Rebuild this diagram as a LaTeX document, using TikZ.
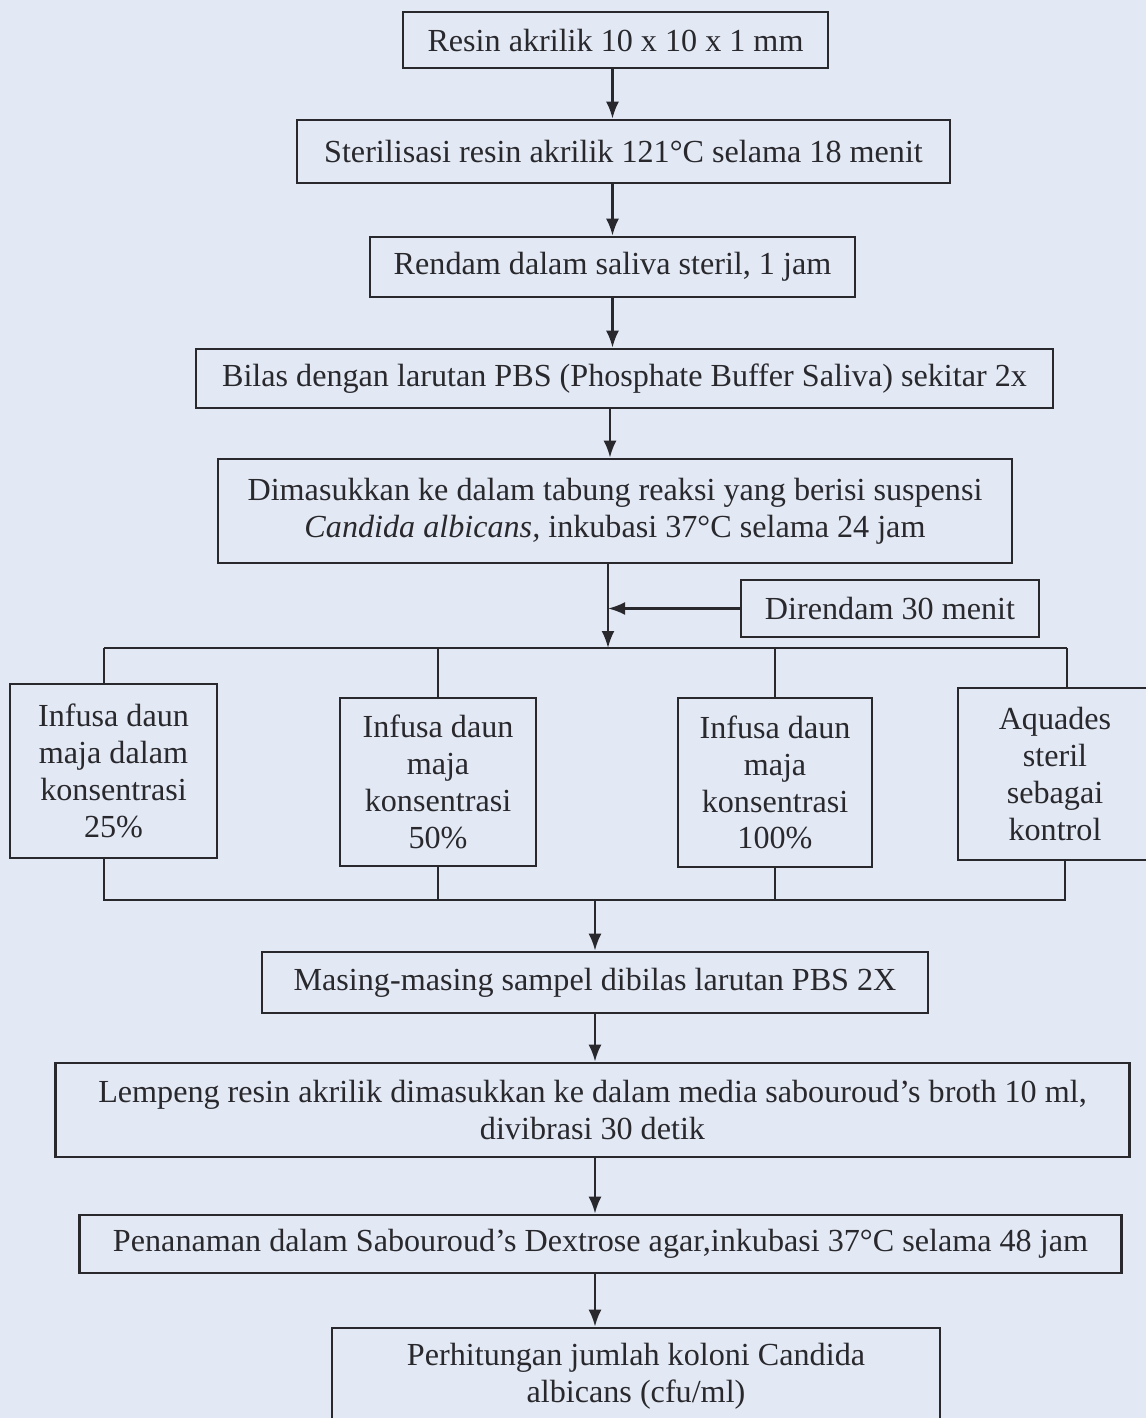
\documentclass[tikz,border=0pt]{standalone}
\usepackage{fontspec}
\setmainfont{Liberation Serif}
\usetikzlibrary{arrows.meta,positioning,calc}
\definecolor{kertas}{RGB}{227,233,244}
\definecolor{tinta}{RGB}{40,40,45}

\begin{document}
\begin{tikzpicture}[x=0.02cm,y=-0.02cm,
    kotak/.style={draw=tinta,line width=1.6pt,align=center,inner sep=0pt,text=tinta,
        font=\fontsize{18.3}{21}\selectfont},
    garis/.style={draw=tinta,line width=1.3pt},
    panah/.style={garis,-{Latex[length=3.4mm,width=2.6mm]}}]
    % Background
    \fill[kertas] (0,0) rectangle (1146,1418);
    \useasboundingbox (0,0) rectangle (1146,1418);

    % Main steps
    \node[kotak,minimum width=8.5cm,minimum height=1.12cm] (resin) at (615.5,40) {Resin akrilik 10 x 10 x 1 mm};
    \node[kotak,minimum width=13.06cm,minimum height=1.26cm] (steril) at (623.5,151.5) {Sterilisasi resin akrilik 121°C selama 18 menit};
    \node[kotak,minimum width=9.7cm,minimum height=1.2cm] (rendam) at (612.5,267) {Rendam dalam saliva steril, 1 jam};
    \node[kotak,minimum width=17.14cm,minimum height=1.18cm] (bilas) at (624.5,378.5) {Bilas dengan larutan PBS (Phosphate Buffer Saliva) sekitar 2x};
    \node[kotak,minimum width=15.88cm,minimum height=2.08cm] (tabung) at (615,511) {Dimasukkan ke dalam tabung reaksi yang berisi suspensi\\\textit{Candida albicans,} inkubasi 37°C selama 24 jam};
    \node[kotak,minimum width=5.96cm,minimum height=1.14cm] (direndam) at (890,608.5) {Direndam 30 menit};

    % Treatment groups
    \node[kotak,minimum width=4.14cm,minimum height=3.48cm] (k1) at (113.5,771) {Infusa daun\\maja dalam\\konsentrasi\\25\%};
    \node[kotak,minimum width=3.92cm,minimum height=3.36cm] (k2) at (438,782) {Infusa daun\\maja\\konsentrasi\\50\%};
    \node[kotak,minimum width=3.88cm,minimum height=3.38cm] (k3) at (775,782.5) {Infusa daun\\maja\\konsentrasi\\100\%};
    \node[kotak,minimum width=3.88cm,minimum height=3.44cm] (k4) at (1055,774) {Aquades\\steril\\sebagai\\kontrol};

    % Final steps
    \node[kotak,minimum width=13.32cm,minimum height=1.22cm] (bilas2) at (595,982.5) {Masing-masing sampel dibilas larutan PBS 2X};
    \node[kotak,minimum width=21.5cm,minimum height=1.88cm] (lempeng) at (592.5,1110) {Lempeng resin akrilik dimasukkan ke dalam media sabouroud’s broth 10 ml,\\divibrasi 30 detik};
    \node[kotak,minimum width=20.86cm,minimum height=1.16cm] (tanam) at (600.5,1244) {Penanaman dalam Sabouroud’s Dextrose agar,inkubasi 37°C selama 48 jam};
    \node[kotak,minimum width=12.16cm,minimum height=1.92cm] (hitung) at (636,1376) {Perhitungan jumlah koloni Candida\\albicans (cfu/ml)};

    % Branch points
    \coordinate (cabang) at (608,648);
    \coordinate (atasKiri) at (104,648);
    \coordinate (atasKanan) at (1067,648);
    \coordinate (bawahKiri) at (104,900);
    \coordinate (bawahKanan) at (1065,900);

    % Arrows
    \draw[panah] (resin.south -| rendam.north) -- (steril.north -| rendam.north);
    \draw[panah] (steril.south -| rendam.north) -- (rendam.north);
    \draw[panah] (rendam.south) -- (rendam.south |- bilas.north);
    \draw[panah] (bilas.south -| 610,0) -- (tabung.north -| 610,0);
    \draw[panah] (tabung.south -| cabang) -- (cabang);
    \draw[panah] (direndam.west) -- (direndam.west -| cabang);

    % Split and join
    \draw[garis] (atasKiri) -- (atasKanan);
    \draw[garis] (atasKiri) -- (atasKiri |- k1.north);
    \draw[garis] (k2.north |- atasKiri) -- (k2.north);
    \draw[garis] (k3.north |- atasKiri) -- (k3.north);
    \draw[garis] (atasKanan) -- (atasKanan |- k4.north);
    \draw[garis] (k1.south -| bawahKiri) -- (bawahKiri) -- (bawahKanan) -- (bawahKanan |- k4.south);
    \draw[garis] (k2.south) -- (k2.south |- bawahKiri);
    \draw[garis] (k3.south) -- (k3.south |- bawahKiri);

    \draw[panah] (bilas2.north |- bawahKiri) -- (bilas2.north);
    \draw[panah] (bilas2.south) -- (bilas2.south |- lempeng.north);
    \draw[panah] (bilas2.south |- lempeng.south) -- (bilas2.south |- tanam.north);
    \draw[panah] (bilas2.south |- tanam.south) -- (bilas2.south |- hitung.north);
\end{tikzpicture}
\end{document}
